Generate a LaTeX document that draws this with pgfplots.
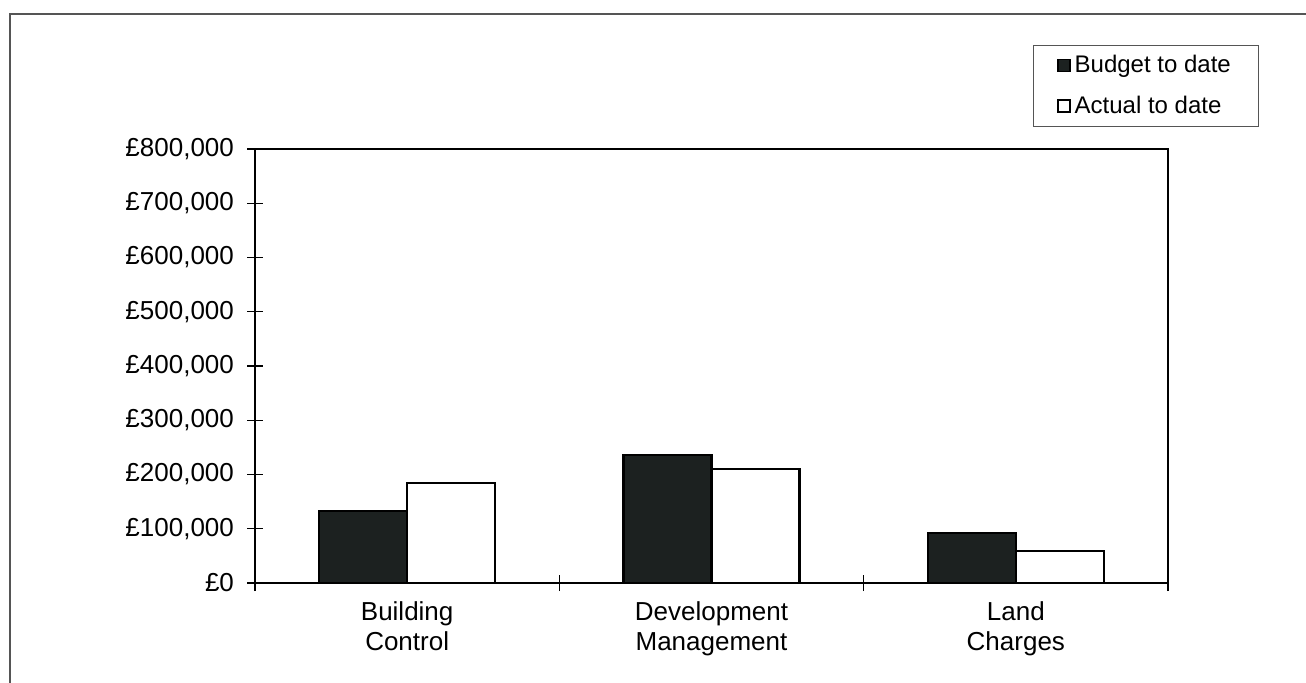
\documentclass[border=0pt]{standalone}
\usepackage{pgfplots}
\pgfplotsset{compat=1.18}
\usepackage{fontspec}
\setmainfont{Liberation Sans}

\definecolor{budget}{HTML}{1C2120}
\definecolor{framegray}{HTML}{555555}

\begin{document}
\begin{tikzpicture}
  % page size = 1306x683 px at 0.5pt per px
  \useasboundingbox (0,0) rectangle (653pt,-341.5pt);
  \draw[framegray, line width=0.7pt] (5pt,-341.5pt) -- (5pt,-7pt) -- (653pt,-7pt);

  \begin{axis}[
      at={(127.5pt,-291.5pt)},
      anchor=south west,
      scale only axis,
      width=456.5pt,
      height=217pt,
      font=\fontsize{13}{15}\selectfont,
      ybar=0pt,
      bar width=44pt,
      ymin=0, ymax=800000,
      xmin=-0.5, xmax=2.5,
      scaled y ticks=false,
      axis line style={line width=1.1pt},
      ytick={0,100000,200000,300000,400000,500000,600000,700000,800000},
      yticklabels={{£0},{£100,000},{£200,000},{£300,000},{£400,000},{£500,000},{£600,000},{£700,000},{£800,000}},
      xtick={0,1,2},
      xticklabels={{Building\\Control},{Development\\Management},{Land\\Charges}},
      x tick label style={align=center, yshift=-2pt},
      y tick label style={xshift=-3pt},
      minor xtick={-0.5,0.5,1.5,2.5},
      major x tick style={draw=none},
      tick align=center,
      major tick length=8pt,
      minor tick length=8pt,
      tick style={black, line width=0.6pt},
      ytick pos=left,
      xtick pos=bottom,
      legend style={
        at={(0.852,1.24)},
        anchor=north west,
        draw=framegray,
        line width=0.6pt,
        font=\fontsize{12}{14.5}\selectfont,
        inner xsep=12pt,
        inner ysep=3pt,
        row sep=6pt,
        legend cell align=left,
      },
      legend image code/.code={
        \draw[#1, line width=0.6pt] (0pt,-3pt) rectangle (6pt,3pt);
      },
    ]
    \addplot[draw=black, fill=budget, line width=1.1pt] coordinates {
      (0, 132700)
      (1, 235400)
      (2, 91600)
    };
    \addlegendentry{Budget to date}
    \addplot[draw=black, fill=white, line width=1.1pt] coordinates {
      (0, 184900)
      (1, 210700)
      (2, 59000)
    };
    \addlegendentry{Actual to date}
  \end{axis}
\end{tikzpicture}
\end{document}
